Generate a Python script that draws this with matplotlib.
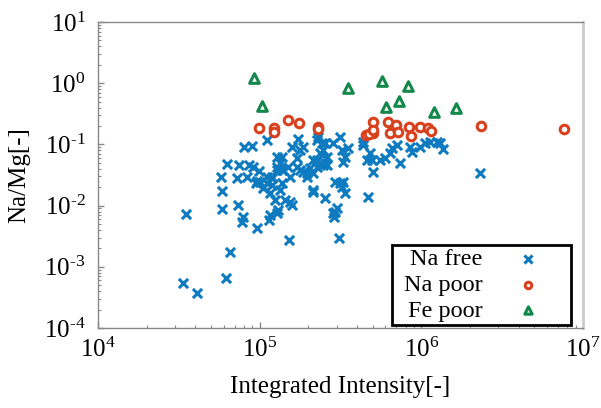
import matplotlib
matplotlib.use("Agg")
import matplotlib.pyplot as plt
from matplotlib.ticker import LogLocator, NullFormatter, FuncFormatter
from matplotlib.patches import Rectangle
import numpy as np

# Na free (blue crosses)
na_free_x = [33600, 40900, 61900, 65500, 35000, 58500, 58500, 57600, 62800, 73400,
             78800, 77800, 96200, 114000, 128000, 152000, 309000, 292000, 288000, 72400,
             74500, 85900, 80000, 89600, 111000, 83400, 90900, 99000, 94800, 100400,
             111000, 119000, 128000, 137000, 137000, 178000, 196000, 226000, 246000, 154000,
             116000, 134000, 143000, 154000, 214000, 253000, 292000, 314000, 104800, 119000,
             124000, 158000, 130000, 116000, 158000, 173000, 178000, 185000, 170000, 150000,
             137000, 214000, 230000, 243000, 246000, 226000, 205000, 185000, 196000, 214000,
             261000, 253000, 314000, 284000, 253000, 323000, 352000, 337000, 327000, 261000,
             327000, 323000, 337000, 301000, 284000, 436000, 436000, 481000, 461000, 495000,
             555000, 596000, 639000, 658000, 706000, 738000, 502000, 468000, 851000, 875000,
             980000, 1052000, 1130000, 1248000, 1303000, 1361000, 2302000, 111000, 128000, 96200,
             128000, 214000, 226000, 236000, 134000, 170000, 120000, 139000]
na_free_y = [0.00054, 0.00037, 0.00066, 0.00175, 0.0073, 0.0088, 0.0173, 0.0293, 0.0479, 0.0102,
             0.0065, 0.0054, 0.0043, 0.0058, 0.0076, 0.0027, 0.0030, 0.0079, 0.0065, 0.0282,
             0.0461, 0.0461, 0.0908, 0.0942, 0.118, 0.0293, 0.0427, 0.0368, 0.0234, 0.0243,
             0.0234, 0.0282, 0.0427, 0.0622, 0.0382, 0.0382, 0.0341, 0.0427, 0.0461, 0.0293,
             0.0161, 0.0180, 0.0124, 0.0115, 0.0167, 0.0133, 0.0243, 0.0234, 0.0194, 0.0217,
             0.0124, 0.0102, 0.0085, 0.0070, 0.0908, 0.123, 0.0810, 0.0908, 0.0600, 0.0427,
             0.0234, 0.0180, 0.132, 0.105, 0.0810, 0.0556, 0.0411, 0.0354, 0.0293, 0.0341,
             0.0622, 0.0497, 0.132, 0.105, 0.105, 0.0810, 0.0874, 0.0622, 0.0516, 0.0461,
             0.0243, 0.0201, 0.0161, 0.0091, 0.0076, 0.109, 0.0977, 0.0723, 0.0556, 0.0556,
             0.0556, 0.0600, 0.0723, 0.0874, 0.0977, 0.0497, 0.0354, 0.0138, 0.0908, 0.0751,
             0.0908, 0.105, 0.109, 0.109, 0.105, 0.0842, 0.0341, 0.0293, 0.0382, 0.0252,
             0.0622, 0.0556, 0.118, 0.0723, 0.0497, 0.0427, 0.0293, 0.0382]

# Na poor (red circles)
na_poor_x = [99000, 122000, 122000, 150000, 175000, 230000, 230000, 502000, 454000, 502000,
             474000, 502000, 621000, 697000, 639000, 716000, 838000, 863000, 980000, 1099000,
             1146000, 2339000, 7620000]
na_poor_y = [0.185, 0.185, 0.160, 0.250, 0.224, 0.192, 0.179, 0.232, 0.142, 0.154,
             0.148, 0.172, 0.232, 0.208, 0.154, 0.160, 0.192, 0.137, 0.192, 0.185,
             0.166, 0.200, 0.179]

# Fe poor (green triangles)
fe_poor_x = [92200, 103000, 352000, 571000, 826000, 604000, 727000, 1196000, 1637000]
fe_poor_y = [1.22, 0.424, 0.835, 1.09, 0.90, 0.408, 0.512, 0.338, 0.394]

labels = ["Na free", "Na poor", "Fe poor"]

plt.rcParams['font.family'] = ['Liberation Serif', 'DejaVu Serif']
plt.rcParams['mathtext.fontset'] = 'custom'
plt.rcParams['mathtext.rm'] = 'Liberation Serif'
plt.rcParams['mathtext.it'] = 'Liberation Serif:italic'
plt.rcParams['axes.unicode_minus'] = False

fig = plt.figure(figsize=(6.01, 4.08), dpi=100)
ax = fig.add_axes([0.163, 0.196, 0.807, 0.75])

blue = '#0E7BC0'
red = '#D9411E'
green = '#12884A'

ax.scatter(na_free_x, na_free_y, marker='x', s=44, linewidths=2.2, color=blue,
           label=labels[0], zorder=3)
ax.scatter(na_poor_x, na_poor_y, marker='o', s=38, linewidths=2.2, facecolors='white',
           edgecolors=red, label=labels[1], zorder=4)
ax.scatter(fe_poor_x, fe_poor_y, marker='^', s=48, linewidths=2.2, facecolors='white',
           edgecolors=green, label=labels[2], zorder=4)

ax.set_xscale('log')
ax.set_yscale('log')
ax.set_xlim(1e4, 1e7)
ax.set_ylim(1e-4, 1e1)


def fmt(v, pos):
    e = int(round(np.log10(v)))
    if e < 0:
        return r'$\mathregular{10^{\text{-}%d}}$' % (-e)
    return r'$\mathregular{10^{%d}}$' % e


ax.xaxis.set_major_locator(LogLocator(base=10, numticks=10))
ax.yaxis.set_major_locator(LogLocator(base=10, numticks=10))
ax.xaxis.set_major_formatter(FuncFormatter(fmt))
ax.yaxis.set_major_formatter(FuncFormatter(fmt))
ax.xaxis.set_minor_locator(LogLocator(base=10, subs=range(2, 10), numticks=20))
ax.yaxis.set_minor_locator(LogLocator(base=10, subs=range(2, 10), numticks=20))
ax.xaxis.set_minor_formatter(NullFormatter())
ax.yaxis.set_minor_formatter(NullFormatter())

ax.tick_params(which='both', direction='in', colors='#888888', labelcolor='black',
               labelsize=18, top=False, right=False)
ax.tick_params(which='major', length=4, width=1)
ax.tick_params(which='minor', length=2.5, width=0.8)
ax.tick_params(axis='x', pad=7)
ax.tick_params(axis='y', pad=9)

for side in ['left', 'bottom', 'top']:
    ax.spines[side].set_color('#888888')
    ax.spines[side].set_linewidth(1.0)
ax.spines['right'].set_color('#cccccc')
ax.spines['right'].set_linewidth(2.0)

ax.set_xlabel('Integrated Intensity[-]', fontsize=18, labelpad=10)
ax.set_ylabel('Na/Mg[-]', fontsize=18, labelpad=10)

# legend frame
frame = Rectangle((0.606, 0.0098), 0.369, 0.261, transform=ax.transAxes,
                  facecolor='white', edgecolor='black', linewidth=2.0, zorder=5)
ax.add_patch(frame)

leg = ax.legend(loc='center right', markerfirst=False, fontsize=17.5, frameon=False,
                handletextpad=1.36, labelspacing=0.15, borderpad=0.0, borderaxespad=0.0,
                handlelength=1.0, bbox_to_anchor=(0.911, 0.1405))
leg.set_zorder(6)
for h, sz in zip(leg.legend_handles, [34, 22, 28]):
    h.set_sizes([sz])

fig.savefig('out.png', dpi=100)
